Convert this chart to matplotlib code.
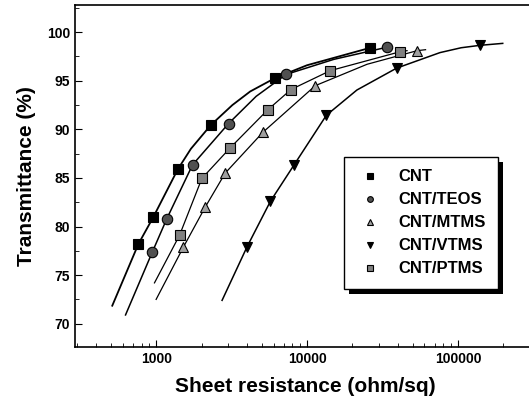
import matplotlib
matplotlib.use("Agg")
import matplotlib.pyplot as plt
from matplotlib.patches import Rectangle
from matplotlib.transforms import IdentityTransform
from matplotlib.ticker import FixedLocator, LogLocator, NullFormatter, MultipleLocator

plt.rcParams['font.family'] = ['Liberation Sans', 'DejaVu Sans']
plt.rcParams['font.weight'] = 'bold'

labels = ['CNT', 'CNT/TEOS', 'CNT/MTMS', 'CNT/VTMS', 'CNT/PTMS']

# measured points
cnt_x = [763, 960, 1393, 2306, 6170, 26300]
cnt_y = [78.2, 81.0, 85.9, 90.45, 95.3, 98.4]
teos_x = [945, 1177, 1743, 3020, 7260, 33960]
teos_y = [77.4, 80.8, 86.35, 90.6, 95.65, 98.46]
mtms_x = [1518, 2115, 2870, 5100, 11350, 53700]
mtms_y = [77.9, 82.0, 85.5, 89.7, 94.5, 98.1]
vtms_x = [4000, 5720, 8170, 13430, 39200, 140000]
vtms_y = [77.9, 82.6, 86.3, 91.45, 96.3, 98.65]
ptms_x = [1429, 2010, 3097, 5480, 7830, 14290, 41600]
ptms_y = [79.1, 84.95, 88.1, 92.0, 94.1, 96.05, 98.0]

# fitted curves
cnt_fx = [512, 763, 960, 1393, 1700, 2306, 3200, 4200, 6170, 10000, 26300]
cnt_fy = [71.85, 78.2, 81.0, 85.9, 88.0, 90.45, 92.5, 93.9, 95.3, 96.6, 98.4]
teos_fx = [627, 945, 1177, 1743, 3020, 4600, 7260, 15000, 33960]
teos_fy = [70.9, 77.4, 80.8, 86.35, 90.6, 93.4, 95.65, 97.2, 98.46]
mtms_fx = [1000, 1518, 2115, 2870, 5100, 11350, 25000, 53700, 61000]
mtms_fy = [72.5, 77.9, 82.0, 85.5, 89.7, 94.5, 96.7, 98.1, 98.2]
vtms_fx = [2735, 4000, 5720, 8170, 13430, 21400, 39200, 76000, 105000, 140000, 198000]
vtms_fy = [72.4, 77.9, 82.6, 86.3, 91.45, 94.05, 96.3, 97.9, 98.4, 98.65, 98.85]
ptms_fx = [975, 1429, 2010, 3097, 5480, 7830, 14290, 41600, 46000]
ptms_fy = [74.2, 79.1, 84.95, 88.1, 92.0, 94.1, 96.05, 98.0, 98.1]

fig = plt.figure(figsize=(5.29, 4.12), dpi=100)
ax = fig.add_axes([75 / 529, 65 / 412, 460 / 529, 342 / 412])

series = [
    (cnt_x, cnt_y, cnt_fx, cnt_fy, 's', 'black', 1.3),
    (teos_x, teos_y, teos_fx, teos_fy, 'o', '#505050', 1.1),
    (mtms_x, mtms_y, mtms_fx, mtms_fy, '^', '#a0a0a0', 0.9),
    (vtms_x, vtms_y, vtms_fx, vtms_fy, 'v', 'black', 1.1),
    (ptms_x, ptms_y, ptms_fx, ptms_fy, 's', '#808080', 0.9),
]

handles = []
for (px, py, fx, fy, mk, col, lw), lab in zip(series, labels):
    ax.plot(fx, fy, color='black', lw=lw, zorder=2)
    h, = ax.plot(px, py, linestyle='none', marker=mk, ms=7.5, mfc=col,
                 mec='black', mew=0.8, zorder=3, label=lab)
    handles.append(h)

ax.set_xscale('log')
ax.set_xlim(290, 324000)
ax.set_ylim(67.6, 102.8)
ax.xaxis.set_major_locator(FixedLocator([1000, 10000, 100000]))
ax.xaxis.set_minor_locator(LogLocator(base=10, subs=range(2, 10)))
ax.xaxis.set_minor_formatter(NullFormatter())
ax.set_xticklabels(['1000', '10000', '100000'])
ax.yaxis.set_major_locator(MultipleLocator(5))
ax.yaxis.set_minor_locator(MultipleLocator(2.5))
ax.tick_params(which='both', direction='in', labelsize=10)
ax.tick_params(which='major', length=5)
ax.tick_params(which='minor', length=3)
for sp in ax.spines.values():
    sp.set_linewidth(1.2)

ax.set_xlabel('Sheet resistance (ohm/sq)', fontsize=15, fontweight='bold', labelpad=8)
ax.set_ylabel('Transmittance (%)', fontsize=15, fontweight='bold', labelpad=8)

leg = ax.legend(handles=handles, loc='upper left', bbox_to_anchor=(0.585, 0.556),
                borderaxespad=0, fancybox=False, edgecolor='black', framealpha=1,
                fontsize=12, markerscale=0.55, labelspacing=0.48, handlelength=1.6,
                handletextpad=0.9, borderpad=0.75)
leg.get_frame().set_linewidth(1.0)
leg.set_zorder(5)

# thick black drop shadow behind the legend box
fig.canvas.draw()
bb = leg.get_window_extent()
shadow = Rectangle((bb.x0 + 5, bb.y0 - 5), bb.width, bb.height,
                   transform=IdentityTransform(), facecolor='black',
                   edgecolor='none', zorder=4.5, clip_on=False)
ax.add_artist(shadow)

fig.savefig('out.png', dpi=100)
